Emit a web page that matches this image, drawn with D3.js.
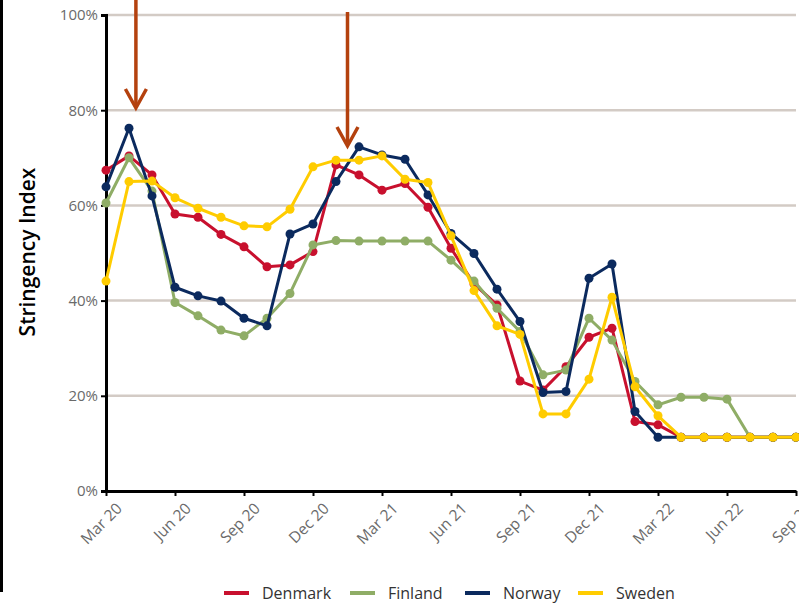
<!DOCTYPE html>
<html>
<head>
<meta charset="utf-8">
<script src="https://cdn.jsdelivr.net/npm/d3@7"></script>
<style>
  body { margin: 0; background: #fff; }
  svg text { font-family: "Open Sans", sans-serif; }
</style>
</head>
<body>
<div id="chart"></div>
<script>
// monthly points, Mar 2020 .. Sep 2022
var months = ["Mar 20","Apr 20","May 20","Jun 20","Jul 20","Aug 20","Sep 20","Oct 20","Nov 20","Dec 20",
  "Jan 21","Feb 21","Mar 21","Apr 21","May 21","Jun 21","Jul 21","Aug 21","Sep 21","Oct 21","Nov 21","Dec 21",
  "Jan 22","Feb 22","Mar 22","Apr 22","May 22","Jun 22","Jul 22","Aug 22","Sep 22"];
var tickLabels = ["Mar 20","Jun 20","Sep 20","Dec 20","Mar 21","Jun 21","Sep 21","Dec 21","Mar 22","Jun 22","Sep 22"];
var yTicks = [0, 20, 40, 60, 80, 100];

var countries = ["Denmark", "Finland", "Norway", "Sweden"];
var colors = ["#c8102e", "#8fad66", "#0b2a5e", "#ffcc00"];

var denmark = [67.4, 70.4, 66.4, 58.2, 57.5, 53.9, 51.3, 47.1, 47.5, 50.3, 68.5, 66.4, 63.2, 64.6, 59.6, 51.0,
  43.5, 39.1, 23.1, 21.2, 26.1, 32.3, 34.2, 14.6, 13.9, 11.3, 11.3, 11.3, 11.3, 11.3, 11.3];
var finland = [60.5, 70.0, 63.0, 39.6, 36.8, 33.8, 32.6, 36.3, 41.5, 51.7, 52.6, 52.5, 52.5, 52.5, 52.5, 48.5,
  44.1, 38.4, 33.5, 24.4, 25.4, 36.3, 31.7, 23.0, 18.1, 19.7, 19.7, 19.3, 11.3, 11.3, 11.3];
var norway = [63.9, 76.2, 62.0, 42.8, 41.0, 39.9, 36.3, 34.7, 54.0, 56.1, 65.0, 72.3, 70.6, 69.7, 62.2, 54.1,
  49.9, 42.4, 35.6, 20.7, 20.9, 44.7, 47.7, 16.7, 11.3, 11.3, 11.3, 11.3, 11.3, 11.3, 11.3];
var sweden = [44.1, 65.0, 65.1, 61.6, 59.4, 57.5, 55.7, 55.5, 59.2, 68.1, 69.5, 69.5, 70.4, 65.5, 64.8, 53.6,
  42.1, 34.7, 32.9, 16.2, 16.2, 23.5, 40.7, 21.9, 15.8, 11.3, 11.3, 11.3, 11.3, 11.3, 11.3];

// arrows: month index (fractional) where they point
var arrowMonths = [1.3, 10.5];
var arrowTops = [0, 12];
var arrowTips = [108, 146];

var margin = {top: 15, right: 3, bottom: 114, left: 106},
    width = 799 - margin.left - margin.right,
    height = 605 - margin.top - margin.bottom;

var svgRoot = d3.select("#chart")
  .append("svg")
    .attr("width", 799)
    .attr("height", 605);

// black bar at left edge
svgRoot.append("rect")
  .attr("x", 0).attr("y", 0)
  .attr("width", 3).attr("height", 592)
  .attr("fill", "#000");

var svg = svgRoot.append("g")
  .attr("transform", "translate(" + margin.left + "," + margin.top + ")");

var x = d3.scalePoint()
  .domain(months)
  .range([0, 690]);

var y = d3.scaleLinear()
  .domain([0, 100])
  .range([height, 0]);

// gridlines
svg.append("g")
  .selectAll("line")
  .data(yTicks.filter(function(d) { return d > 0; }))
  .enter().append("line")
    .attr("x1", 0)
    .attr("x2", 690)
    .attr("y1", function(d) { return y(d); })
    .attr("y2", function(d) { return y(d); })
    .attr("stroke", "#d3cbc5")
    .attr("stroke-width", 2.5);

// Y axis
var yAxis = svg.append("g")
  .call(d3.axisLeft(y).tickValues(yTicks).tickSize(5).tickFormat(function(d) { return d + "%"; }));
yAxis.select(".domain").attr("stroke", "#000").attr("stroke-width", 3);
yAxis.selectAll(".tick line").attr("stroke", "#000").attr("stroke-width", 2);
yAxis.selectAll("text")
  .attr("x", -8)
  .attr("fill", "#6a6a6a")
  .style("font-size", "15px");

// X axis
var xAxis = svg.append("g")
  .attr("transform", "translate(0," + height + ")")
  .call(d3.axisBottom(x).tickValues(tickLabels).tickSize(5).tickSizeOuter(0));
xAxis.select(".domain").attr("stroke", "#000").attr("stroke-width", 3);
xAxis.selectAll(".tick line").attr("stroke", "#000").attr("stroke-width", 2);
xAxis.selectAll("text")
  .attr("fill", "#6a6a6a")
  .style("font-size", "15.5px")
  .attr("transform", "translate(3,5)rotate(-45)")
  .style("text-anchor", "end");

// lines
var series = [denmark, finland, norway, sweden];
var line = d3.line()
  .x(function(d, i) { return x(months[i]); })
  .y(function(d) { return y(d); });

series.forEach(function(values, k) {
  var g = svg.append("g");
  g.append("path")
    .datum(values)
    .attr("fill", "none")
    .attr("stroke", colors[k])
    .attr("stroke-width", 3)
    .attr("stroke-linejoin", "round")
    .attr("d", line);
  g.selectAll("circle")
    .data(values)
    .enter().append("circle")
      .attr("cx", function(d, i) { return x(months[i]); })
      .attr("cy", function(d) { return y(d); })
      .attr("r", 4.5)
      .attr("fill", colors[k]);
});

// arrows
var arrowColor = "#b4410e";
arrowMonths.forEach(function(m, i) {
  var ax = x(months[0]) + m * x.step() + margin.left;
  var g = svgRoot.append("g")
    .attr("fill", "none")
    .attr("stroke", arrowColor)
    .attr("stroke-width", 3.5);
  g.append("line")
    .attr("x1", ax).attr("x2", ax)
    .attr("y1", arrowTops[i]).attr("y2", arrowTips[i] - 2);
  g.append("path")
    .attr("d", "M" + (ax - 10.5) + "," + (arrowTips[i] - 19) + "L" + ax + "," + arrowTips[i] + "L" + (ax + 10.5) + "," + (arrowTips[i] - 19));
});

// Y title
svgRoot.append("text")
  .attr("transform", "translate(35,252)rotate(-90)")
  .attr("text-anchor", "middle")
  .style("font-size", "21px")
  .style("font-weight", "600")
  .attr("fill", "#000")
  .text("Stringency Index");

// legend
var legendX = [224, 350, 465, 578];
var legend = svgRoot.append("g")
  .selectAll("g")
  .data(countries)
  .enter().append("g")
    .attr("transform", function(d, i) { return "translate(" + legendX[i] + ",593)"; });
legend.append("line")
  .attr("x1", 0).attr("x2", 25)
  .attr("stroke", function(d, i) { return colors[i]; })
  .attr("stroke-width", 4);
legend.append("text")
  .attr("x", 38)
  .attr("dy", "0.35em")
  .attr("fill", "#333")
  .style("font-size", "16px")
  .text(function(d) { return d; });
</script>
</body>
</html>
